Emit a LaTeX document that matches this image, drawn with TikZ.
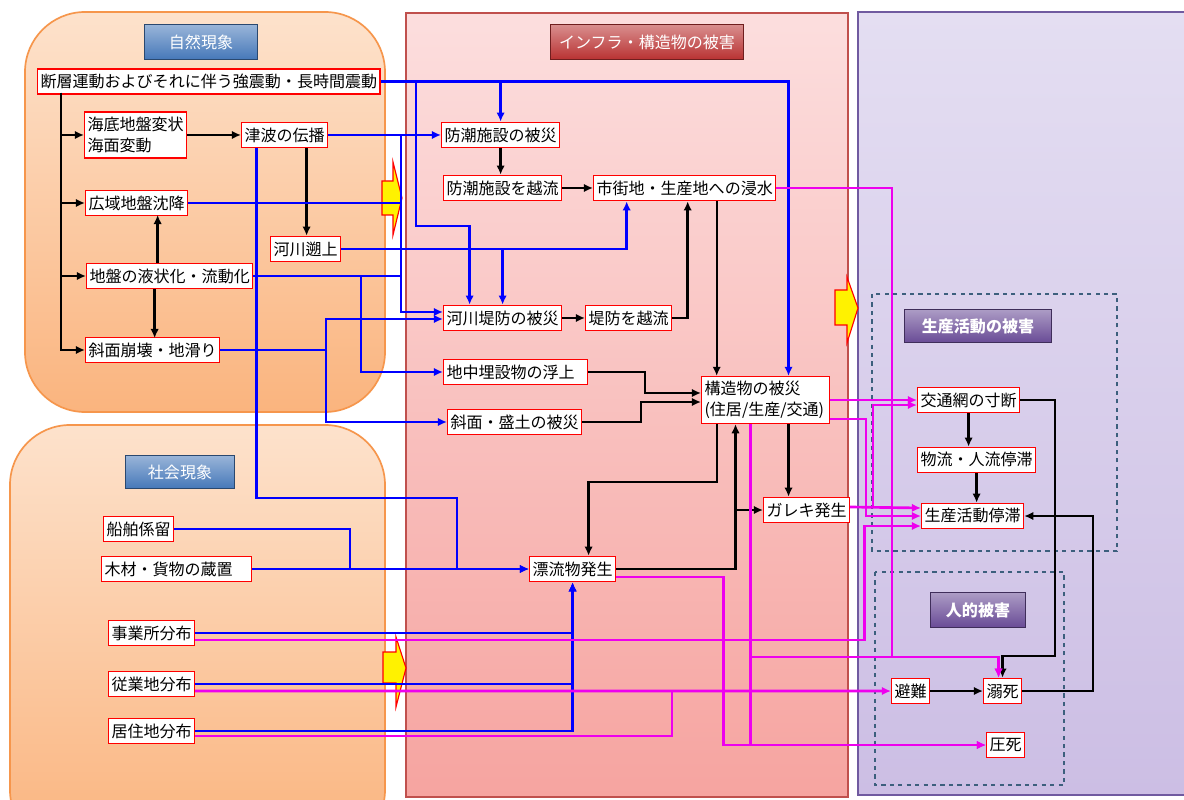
\documentclass[tikz,border=0pt]{standalone}
\usepackage{fontspec}
\newfontfamily\jp{Noto Sans CJK JP}
\usepackage{tikz}
\usetikzlibrary{arrows.meta,positioning,calc}
\definecolor{nattop}{RGB}{253,226,204}
\definecolor{natbot}{RGB}{250,180,126}
\definecolor{natline}{RGB}{246,150,76}
\definecolor{inftop}{RGB}{252,222,222}
\definecolor{infbot}{RGB}{246,164,160}
\definecolor{infline}{RGB}{192,80,77}
\definecolor{rgttop}{RGB}{228,222,242}
\definecolor{rgtbot}{RGB}{204,190,228}
\definecolor{rgtline}{RGB}{112,90,160}
\definecolor{dashcol}{RGB}{60,95,125}
\definecolor{natblue}{RGB}{70,120,185}
\definecolor{infred}{RGB}{185,50,50}
\definecolor{dmgpurple}{RGB}{105,75,150}
\definecolor{pinkline}{RGB}{238,0,238}

\begin{document}
\begin{tikzpicture}[x=0.025cm, y=-0.025cm, >={Latex[length=6.5pt,width=6pt]},
    every node/.style={font=\jp\fontsize{11.4}{15}\selectfont},
    box/.style={draw=red, line width=1pt, fill=white, inner xsep=2pt, inner ysep=1pt,
                minimum height=0.63cm, anchor=west, align=left},
    badge/.style={draw=#1!60!black, top color=#1!55!white, bottom color=#1, text=white,
                  line width=0.6pt},
    blk/.style={draw=black, line width=1.7pt, ->},
    bl/.style={draw=blue, line width=1.9pt, ->},
    pk/.style={draw=pinkline, line width=1.9pt, ->},
    fat/.style={fill=yellow, draw=red, line width=0.8pt}]
    \useasboundingbox (0,0) rectangle (1184,800);
    \clip (0,0) rectangle (1184,800);
    \fill[white] (0,0) rectangle (1184,800);
    % panels
    \draw[draw=natline, line width=1.2pt, top color=nattop, bottom color=natbot, rounded corners=1.5cm] (25,12) rectangle (385,412);
    \draw[draw=natline, line width=1.2pt, top color=nattop, bottom color=natbot, rounded corners=1.5cm] (10,425) rectangle (385,850);
    \draw[draw=infline, line width=0.8pt, top color=inftop, bottom color=infbot] (406,13) rectangle (848,797);
    \draw[draw=rgtline, line width=0.8pt, top color=rgttop, bottom color=rgtbot] (858,12) rectangle (1200,795);
    \draw[dashed, draw=dashcol, line width=0.9pt] (872,294) rectangle (1117,551);
    \draw[dashed, draw=dashcol, line width=0.9pt] (875,572) rectangle (1064,785);
    % titles
    \node[badge=natblue, minimum width=2.83cm, minimum height=0.87cm] (natttl) at (201,42) {自然現象};
    \node[badge=natblue, minimum width=2.73cm, minimum height=0.83cm] (socttl) at (180,472) {社会現象};
    \node[badge=infred, minimum width=4.83cm, minimum height=0.87cm] (infttl) at (647,42) {インフラ・構造物の被害};
    \node[badge=dmgpurple, minimum width=3.68cm, minimum height=0.83cm, font=\jp\bfseries\fontsize{11.4}{13}\selectfont] (prdttl) at (978,326) {生産活動の被害};
    \node[badge=dmgpurple, minimum width=2.38cm, minimum height=0.87cm, font=\jp\bfseries\fontsize{11.4}{13}\selectfont] (humttl) at (978,610) {人的被害};
    % yellow arrows
    \draw[fat] (382,181) -- (393,181) -- (393,162) -- (402,198) -- (393,235) -- (393,215) -- (382,215) -- cycle;
    \draw[fat] (835,290) -- (847,290) -- (847,277) -- (858,308) -- (847,343) -- (847,325) -- (835,325) -- cycle;
    \draw[fat] (383,652) -- (396,652) -- (396,637) -- (406,668) -- (396,707) -- (396,683) -- (383,683) -- cycle;

    % natural phenomena
    \node[box] (fault) at (37,81.5) {断層運動およびそれに伴う強震動・長時間震動};
    \node[box, minimum height=1.15cm] (seabed) at (84,135) {海底地盤変状\\海面変動};
    \node[box] (tsunami) at (241,135) {津波の伝播};
    \node[box] (subside) at (85,203) {広域地盤沈降};
    \node[box] (riverup) at (270,249) {河川遡上};
    \node[box] (liquef) at (86,276) {地盤の液状化・流動化};
    \node[box] (slope) at (85,350) {斜面崩壊・地滑り};
    % infrastructure
    \node[box] (seawall) at (441,135) {防潮施設の被災};
    \node[box] (wallover) at (443,188) {防潮施設を越流};
    \node[box] (flood) at (593,188) {市街地・生産地への浸水};
    \node[box] (levee) at (443,318) {河川堤防の被災};
    \node[box] (leveeover) at (585,318) {堤防を越流};
    \node[box, text width=3.45cm] (pipe) at (443,372) {地中埋設物の浮上};
    \node[box] (embank) at (447,422) {斜面・盛土の被災};
    \node[box, text width=3.05cm, minimum height=1.17cm] (struct) at (701,400) {構造物の被災\\(住居/生産/交通)};
    \node[box] (debris) at (763,510) {ガレキ発生};
    \node[box] (drift) at (529,569) {漂流物発生};
    % social
    \node[box] (ship) at (103,529) {船舶係留};
    \node[box, text width=3.6cm] (timber) at (101,569) {木材・貨物の蔵置};
    \node[box] (office) at (108,633) {事業所分布};
    \node[box] (worker) at (108,684) {従業地分布};
    \node[box] (resid) at (108,731) {居住地分布};
    % damage
    \node[box] (traffic) at (917,400) {交通網の寸断};
    \node[box] (logist) at (917,460) {物流・人流停滞};
    \node[box] (prodstop) at (921,516) {生産活動停滞};
    \node[box] (evac) at (891,691) {避難};
    \node[box] (drown) at (983,691) {溺死};
    \node[box] (crush) at (986,745) {圧死};

    % black arrows
    \coordinate (trunk) at (61,93);
    \foreach \n in {seabed,subside,liquef,slope}
        \draw[blk] (trunk) |- (\n.west);
    \draw[blk] (seabed.east) -- (tsunami.west);
    \draw[blk] ([xshift=0.55cm]tsunami.south) -- ([xshift=0.55cm]tsunami.south |- riverup.north);
    \draw[blk] ([xshift=-0.3cm]liquef.north) -- ++(0,-47.8);
    \draw[blk] ([xshift=-0.375cm]liquef.south) -- ++(0,48.8);
    \draw[blk] (seawall.south) -- (seawall.south |- wallover.north);
    \draw[blk] (wallover.east) -- (flood.west);
    \draw[blk] (levee.east) -- (leveeover.west);
    \draw[blk] (leveeover.east) -| ([xshift=0.075cm]flood.south);
    \coordinate (fs) at ([xshift=0.8cm]flood.south);
    \draw[blk] (fs) -- (fs |- struct.north);
    \draw[blk] (pipe.east) -- ++(57,0) |- ([yshift=0.175cm]struct.west);
    \draw[blk] (embank.east) -- ++(59,0) |- ([yshift=-0.05cm]struct.west);
    \draw[blk] (fs |- struct.south) -- ++(0,58) -| ([xshift=0.4cm]drift.north);
    \coordinate (sb) at ([xshift=-0.75cm]struct.south);
    \draw[blk] (drift.east) -| (sb);
    \draw[blk] (sb |- debris.west) -- (debris.west);
    \coordinate (sd) at ([xshift=0.575cm]struct.south);
    \draw[blk] (sd) -- (sd |- debris.north);
    \draw[blk] (traffic.south) -- (traffic.south |- logist.north);
    \draw[blk] (logist.south) -- (logist.south |- prodstop.north);
    \draw[blk] (traffic.east) -- ++(35,0) |- ([yshift=0.535cm]drown.north) -- (drown.north);
    \draw[blk] (drown.east) -- ++(71,0) |- (prodstop.east);
    \draw[blk] (evac.east) -- (drown.west);

    % blue arrows
    \draw[bl] (fault.east) -| ([xshift=0.575cm]struct.north);
    \draw[bl] (seawall.north |- fault.east) -- (seawall.north);
    \coordinate (fj) at (416,81.5);
    \draw[bl] (fj) -- (416,226) -| ([xshift=-0.825cm]levee.north);
    \coordinate (tj) at (401,135);
    \draw[bl] (tsunami.east) -- (seawall.west);
    \draw[bl] (tj) |- ([yshift=0.15cm]levee.west);
    \draw[bl,-] (subside.east) -- (subside.east -| tj);
    \draw[bl] (riverup.east) -| ([xshift=-1.45cm]flood.south);
    \draw[bl] (levee.north |- riverup.east) -- (levee.north);
    \draw[bl,-] (liquef.east) -- (liquef.east -| tj);
    \coordinate (lj) at (361,276);
    \draw[bl] (lj) |- (pipe.west);
    \coordinate (sj) at (326,350);
    \draw[bl,-] (slope.east) -- (sj);
    \draw[bl] (sj) |- ([yshift=-0.025cm]levee.west);
    \draw[bl] (sj) |- (embank.west);
    \draw[bl] ([xshift=-0.7cm]tsunami.south) |- (457,498) |- (drift.west);
    \draw[bl,-] (ship.east) -| (350,569);
    \draw[bl] (timber.east) -- (drift.west);
    \foreach \n in {office,worker,resid}
        \draw[bl] (\n.east) -| (drift.south);

    % magenta arrows
    \draw[pk] (flood.east) -| (892,657) -| ([xshift=-0.1cm]drown.north);
    \draw[pk] (struct.east) -- (traffic.west);
    \draw[pk] ([yshift=-0.475cm]struct.east) -- ++(36,0) |- (prodstop.west);
    \draw[pk] ([yshift=0.075cm]debris.east) -- ([yshift=0.2cm]prodstop.west);
    \coordinate (gj) at (873,507);
    \draw[pk] (gj) |- ([yshift=-0.125cm]traffic.west);
    \draw[pk] ([yshift=-0.175cm]office.east) -- ++(669,0) |- ([yshift=-0.25cm]prodstop.west);
    \coordinate (pj) at ([xshift=-0.375cm]struct.south);
    \coordinate (hj) at (0,657);
    \draw[pk] (pj) |- (crush.west);
    \draw[pk] (pj |- hj) -| ([xshift=-0.1cm]drown.north);
    \draw[pk] ([yshift=-0.2cm]drift.east) -- ++(107,0) |- (crush.west);
    \draw[pk] ([yshift=-0.175cm]worker.east) -- (evac.west);
    \draw[pk,-] ([yshift=-0.125cm]resid.east) -| (672,691);
\end{tikzpicture}
\end{document}
